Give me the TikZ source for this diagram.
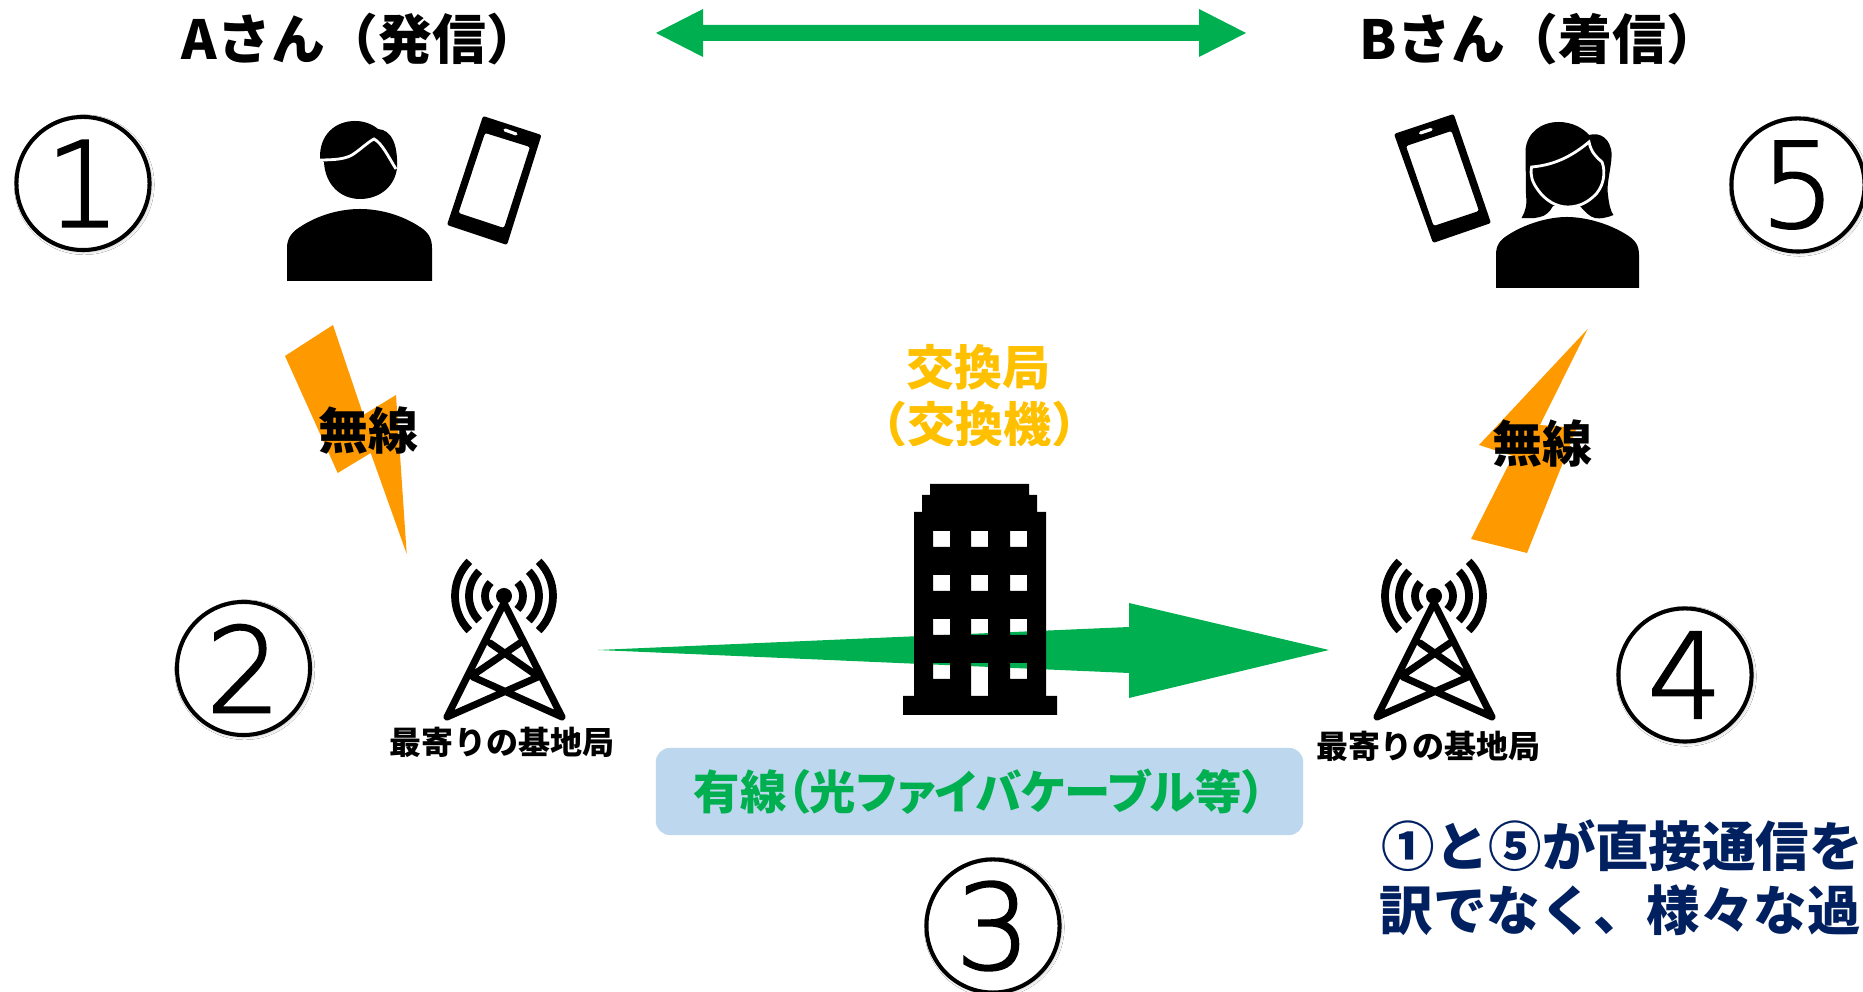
\documentclass[tikz,border=0pt]{standalone}
\usepackage{fontspec}
\setmainfont{Noto Sans CJK JP}
\newfontfamily\jppalt[RawFeature=+palt]{Noto Sans CJK JP}
\newfontfamily\digfont[FakeBold=2]{DejaVu Sans ExtraLight}
\usetikzlibrary{calc,shadows.blur}
\definecolor{gr}{HTML}{00B050}
\definecolor{bolt}{HTML}{FF9900}
\definecolor{ex}{HTML}{FFC000}
\definecolor{bluebox}{HTML}{BDD7EE}
\definecolor{navy}{HTML}{002060}
\newcommand{\fsz}[1]{\fontsize{#1pt}{#1pt}\selectfont}
\tikzset{
  x=0.01cm,y=-0.01cm,
  numcirc/.style={circle,draw=black,fill=white,line width=1.15pt,minimum size=1.33cm,inner sep=0pt,font=\digfont\fsz{33.5},
    blur shadow={shadow xshift=0.35pt,shadow yshift=-0.35pt,shadow blur radius=1pt,shadow opacity=35}},
  titletext/.style={inner sep=0pt,font=\bfseries\fsz{15.3}},
  radiotext/.style={inner sep=0pt,font=\bfseries\fsz{14.2}},
  stationtext/.style={inner sep=0pt,font=\bfseries\fsz{9.1}},
  extext/.style={inner sep=0pt,text=ex,font=\bfseries\fsz{13.65}},
  notetext/.style={inner sep=0pt,anchor=west,text=navy,font=\bfseries\fsz{15.2}},
  boltshape/.style={fill=bolt},
  greenshape/.style={fill=gr},
  tower/.pic={
    \draw[line width=2pt,line cap=round,line join=round]
      (447,717) -- (504,603) -- (562,717)
      (447,717) -- (538,677) (562,717) -- (473,677)
      (473,675) -- (520,643) (536,675) -- (490,643);
    \fill (504,596) circle (8);
    \foreach \r in {19,35,49}{
      \draw[line width=2.2pt] ($(504,596)+(225:\r)$) arc[start angle=135,end angle=225,radius=\r*0.01cm];
      \draw[line width=2.2pt] ($(504,596)+(-45:\r)$) arc[start angle=45,end angle=-45,radius=\r*0.01cm];
    }
  },
}
\begin{document}
\begin{tikzpicture}
\useasboundingbox (0,0) rectangle (1863,992);
\fill[white] (0,0) rectangle (1863,992);

% top double arrow
\fill[greenshape] (656,33) -- (703,9) -- (703,25) -- (1199,25) -- (1199,9) -- (1246,33) -- (1199,57) -- (1199,41) -- (703,41) -- (703,57) -- cycle;

% titles
\node[titletext] (ta) at (361,39) {Aさん（発信）};
\node[titletext] (tb) at (1540,39) {Bさん（着信）};

% numbered circles
\node[numcirc] (c1) at (83,183.5) {1};
\node[numcirc] (c2) at (243.5,668.5) {2};
\node[numcirc] (c3) at (993,926) {3};
\node[numcirc] (c4) at (1685,675) {4};
\node[numcirc] (c5) at (1798,185) {5};

% person A
\fill (287,281) -- (287,248) .. controls (287,238) and (292,232) .. (300,227) .. controls (318,215) and (340,209) .. (360,209) .. controls (380,209) and (402,215) .. (420,227) .. controls (428,232) and (432,238) .. (432,248) -- (432,281) -- cycle;
\fill (320,159) .. controls (319,135) and (335,121) .. (355,121) .. controls (364,121) and (372,124) .. (378,129) .. controls (392,130) and (398,145) .. (397,168) .. controls (395,186) and (380,199) .. (360,199) .. controls (340,199) and (325,184) .. (324,162) -- cycle;
\draw[white,line width=0.8pt] (319,160) .. controls (335,160) and (345,159) .. (352,155) .. controls (360,150) and (368,142) .. (374,139) .. controls (382,143) and (389,158) .. (396,169);
% phone A
\fill[even odd rule,rounded corners=0.6pt] (483,116) -- (541.5,135) -- (507,245) -- (447,225) -- cycle
  (485,133) -- (530,147) -- (504,228) -- (458.5,213) -- cycle;
\draw[white,line width=0.9pt,line cap=round] (505,130) -- (516,134);

% person B
\fill (1496,288) -- (1496,255) .. controls (1496,245) and (1500,240) .. (1508,235) .. controls (1525,224) and (1548,217) .. (1567,217) .. controls (1586,217) and (1610,224) .. (1627,235) .. controls (1635,240) and (1639,245) .. (1639,255) -- (1639,288) -- cycle;
\fill (1521.5,218) .. controls (1526,210) and (1527,205) .. (1526,195) -- (1525.5,150) .. controls (1527,132) and (1542,122) .. (1558.5,122) .. controls (1572,122) and (1583,128) .. (1589,135) .. controls (1600,132) and (1611,138) .. (1611.7,155) .. controls (1611,170) and (1606,185) .. (1608,195) .. controls (1609,205) and (1611,212) .. (1613.5,215) .. controls (1606,218) and (1600,219) .. (1595,218) .. controls (1590,217) and (1585,212) .. (1580,206) -- (1553,206) .. controls (1550,212) and (1545,216) .. (1540,217) .. controls (1533,219) and (1527,218) .. (1521.5,218) -- cycle;
\draw[white,line width=0.8pt,fill=black] (1531.6,167) .. controls (1555,165) and (1572,156) .. (1589,142) .. controls (1591,152) and (1596,157) .. (1602,162) .. controls (1606,172) and (1604,188) .. (1593,197) .. controls (1585,204) and (1577,207) .. (1567.5,207) .. controls (1556,207) and (1545,200) .. (1538,190) .. controls (1532,182) and (1530,175) .. (1531.6,167) -- cycle;
% phone B
\fill[even odd rule,rounded corners=0.6pt] (1394,134) -- (1453.7,114) -- (1491,223) -- (1433,243) -- cycle
  (1406,146) -- (1451.5,131) -- (1479,211) -- (1433.6,226) -- cycle;
\draw[white,line width=0.9pt,line cap=round] (1420.5,133) -- (1431,129.5);

% bolts
\fill[boltshape] (333,325) -- (285,356) -- (337.7,473) -- (370.7,453) -- (406.7,554) -- (396,395) -- (363.3,415) -- cycle;
\fill[boltshape] (1587.7,329) -- (1479,445) -- (1513,456) -- (1471,539) -- (1527,553) -- (1576.7,428) -- (1540,425) -- cycle;
\node[radiotext] (ra) at (368.5,431) {無線};
\node[radiotext] (rb) at (1542,444) {無線};

% green arrow
\fill[greenshape] (598,650) -- (1129,627) -- (1129,603) -- (1329,650) -- (1129,698) -- (1129,673) -- cycle;

% building
\fill[even odd rule] (903,715) -- (903,696) -- (914,696) -- (914,512) -- (922,512) -- (922,495) -- (930,495) -- (930,484) -- (1029,484) -- (1029,495) -- (1037,495) -- (1037,512) -- (1046,512) -- (1046,696) -- (1057,696) -- (1057,715) -- cycle
  (933,531) rectangle (950,547) (971,531) rectangle (988,547) (1010,531) rectangle (1027,547)
  (933,575) rectangle (950,591) (971,575) rectangle (988,591) (1010,575) rectangle (1027,591)
  (933,619) rectangle (950,635) (971,619) rectangle (988,635) (1010,619) rectangle (1027,635)
  (933,663) rectangle (950,679) (971,663) rectangle (988,696) (1010,663) rectangle (1027,679);
\begin{scope}
\clip (850,330) rectangle (1110,446);
\node[extext] (ex1) at (978,367) {交換局};
\node[extext] (ex2) at (979,424) {（交換機）};
\end{scope}

% towers
\pic (t1) at (0,0) {tower};
\pic (t2) at (930,0) {tower};
\node[stationtext] (sa) at (502,742.5) {最寄りの基地局};
\node[stationtext] (sb) at (1428,746) {最寄りの基地局};

% blue box
\node[fill=bluebox,rounded corners=0.14cm,minimum width=6.47cm,minimum height=0.87cm,inner sep=0pt,text=gr,font=\jppalt\bfseries\fsz{13.2}] (wire) at (979.5,791.5) {有線（光ファイバケーブル等）};

% note (runs past the picture's edge)
\node[notetext] (n1) at (1381,846) {①と⑤が直接通信を};
\node[notetext] (n2) at (1379,910) {訳でなく、様々な過};
\end{tikzpicture}
\end{document}
